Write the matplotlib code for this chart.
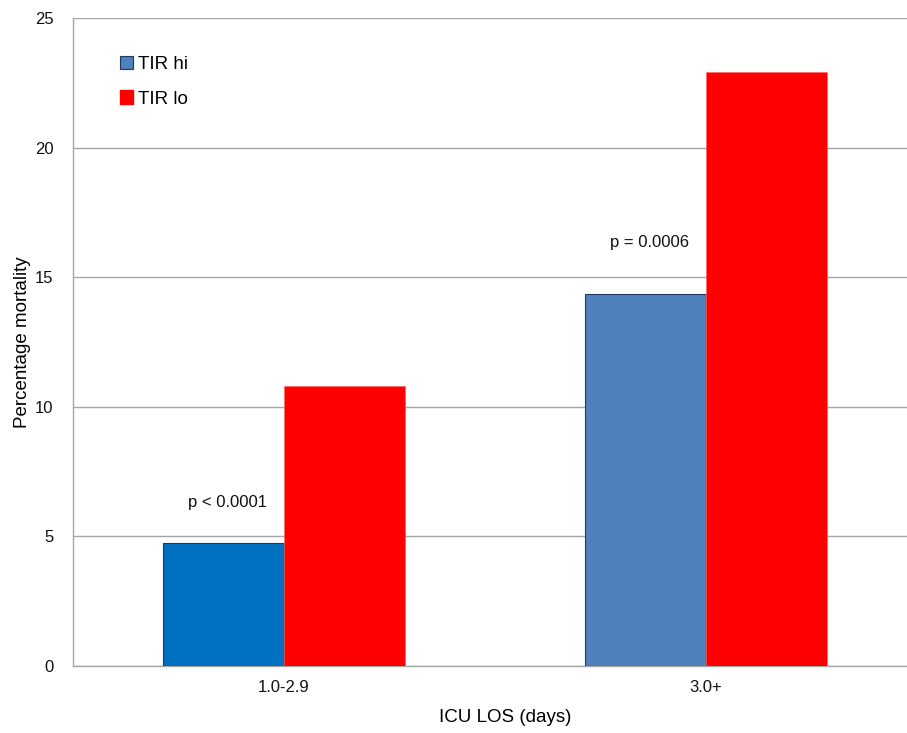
import matplotlib
matplotlib.use("Agg")
import matplotlib.pyplot as plt
from matplotlib.patches import Patch
import numpy as np

plt.rcParams['font.family'] = ['Liberation Sans', 'DejaVu Sans']

categories = ["1.0-2.9", "3.0+"]
tir_hi = [4.75, 14.35]
tir_lo = [10.8, 22.9]
series_names = ["TIR hi", "TIR lo"]
hi_colors = ["#0070C0", "#4F81BD"]
lo_color = "#FF0000"
p_labels = ["p < 0.0001", "p = 0.0006"]
p_label_y = [6.3, 16.35]
y_ticks = [0, 5, 10, 15, 20, 25]

fig = plt.figure(figsize=(9.07, 7.33), dpi=100)
ax = fig.add_axes([73 / 907, 67 / 733, 834 / 907, 648 / 733])

x = np.arange(len(categories))
w = 1 / 3.5  # gap width 150%

ax.bar(x - w / 2, tir_hi, width=w, color=hi_colors, edgecolor="#1F3864",
       linewidth=0.8, zorder=3)
ax.bar(x + w / 2, tir_lo, width=w, color=lo_color, edgecolor="#FF6666",
       linewidth=0.5, zorder=3)

for xi, lab, yy in zip(x, p_labels, p_label_y):
    ax.text(xi - w / 2 + 0.01, yy, lab, ha="center", va="center",
            fontsize=12, color="#111111")

ax.set_xlim(-0.5, -0.5 + 834 / 422)
ax.set_ylim(0, 25)
ax.set_yticks(y_ticks)
ax.set_xticks(x)
ax.set_xticklabels(categories)
ax.tick_params(axis="both", length=0, labelsize=12, colors="#111111")
ax.tick_params(axis="y", pad=14)
ax.tick_params(axis="x", pad=10)
ax.yaxis.grid(True, color="#A6A6A6", linewidth=1.0, zorder=0)
ax.set_axisbelow(True)
for s in ["top", "right"]:
    ax.spines[s].set_visible(False)
for s in ["left", "bottom"]:
    ax.spines[s].set_color("#A6A6A6")
    ax.spines[s].set_linewidth(1.0)

ax.set_ylabel("Percentage mortality", fontsize=13.5, labelpad=3)
fig.text(505 / 907, 1 - 718 / 733, "ICU LOS (days)", ha="center", va="center",
         fontsize=13.5)

handles = [Patch(facecolor=hi_colors[1], edgecolor="#1F3864", linewidth=0.8),
           Patch(facecolor=lo_color, edgecolor=lo_color)]
leg = ax.legend(handles, series_names, loc="upper left",
                bbox_to_anchor=((112 - 73) / 834, (666 - 48) / 648),
                frameon=False, fontsize=13.5, handlelength=0.7, handleheight=0.7,
                handletextpad=0.3, labelspacing=0.95, borderaxespad=0)

fig.savefig("out.png", dpi=100)
